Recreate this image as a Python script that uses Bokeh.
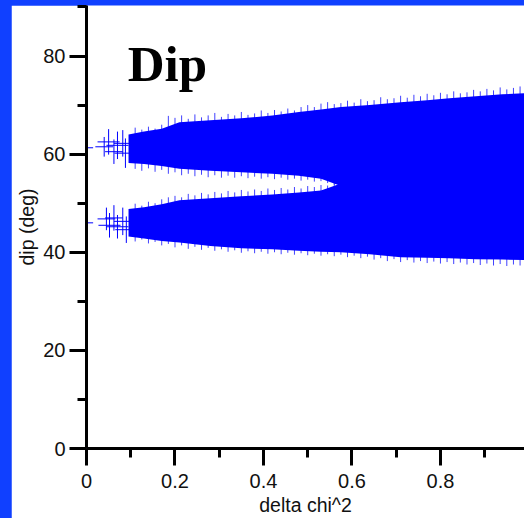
from bokeh.plotting import figure
from bokeh.models import Range1d, FixedTicker, CustomJSTickFormatter, Label, ColumnDataSource
from bokeh.layouts import column
from bokeh.embed import file_html
from bokeh.resources import INLINE

# ---------------- data ----------------
x_ticks = [0, 0.2, 0.4, 0.6, 0.8]
x_minor = [0.1, 0.3, 0.5, 0.7, 0.9]
y_ticks = [0, 20, 40, 60, 80]
y_minor = [10, 30, 50, 70, 90]

# sparse crosses at small delta chi^2 (upper solution)
up_x = [0.0, 0.040, 0.050, 0.062, 0.070, 0.082, 0.088]
up_y = [61.3, 61.5, 62.5, 60.5, 61.8, 62.2, 60.2]
up_ye = [1.0, 2.0, 2.6, 2.5, 2.8, 2.7, 3.0]
up_xe = [0.015, 0.020, 0.025, 0.020, 0.025, 0.020, 0.025]

# sparse crosses at small delta chi^2 (lower solution)
lo_x = [0.0, 0.045, 0.052, 0.062, 0.070, 0.082, 0.090]
lo_y = [46.0, 46.8, 45.5, 47.0, 45.2, 46.3, 44.6]
lo_ye = [1.0, 2.3, 2.5, 2.6, 2.4, 2.8, 2.7]
lo_xe = [0.015, 0.020, 0.025, 0.020, 0.025, 0.020, 0.025]

# dense part: envelope of the overlapping error bars
env_x = [0.095, 0.13, 0.17, 0.21, 0.28, 0.35, 0.42, 0.48, 0.53, 0.575, 0.64, 0.71, 0.77, 0.82, 0.88, 0.94, 0.99]
up_top = [64.0, 64.6, 65.2, 66.5, 66.9, 67.3, 67.9, 68.6, 69.1, 69.6, 70.0, 70.6, 71.0, 71.4, 71.8, 72.2, 72.4]
up_bot = [58.2, 58.0, 57.6, 57.0, 56.6, 56.3, 56.0, 55.6, 55.0, 53.5, 50.0, 50.0, 50.0, 50.0, 50.0, 50.0, 50.0]
lo_top = [48.8, 49.2, 49.8, 50.6, 51.0, 51.4, 51.8, 52.2, 52.6, 54.0, 56.0, 56.0, 56.0, 56.0, 56.0, 56.0, 56.0]
lo_bot = [43.2, 42.8, 42.3, 42.0, 41.3, 40.8, 40.6, 40.3, 40.1, 40.0, 39.6, 39.0, 38.9, 38.8, 38.6, 38.5, 38.4]

# longest error bars sticking out of the dense part
ut_x = [0.11, 0.125, 0.14, 0.155, 0.17, 0.185, 0.20, 0.215, 0.23, 0.245, 0.26, 0.275, 0.29, 0.305, 0.32,
        0.335, 0.35, 0.365, 0.38, 0.395, 0.41, 0.425, 0.44, 0.455, 0.47, 0.485, 0.50, 0.515, 0.53, 0.545,
        0.56, 0.575, 0.59, 0.605, 0.62, 0.635, 0.65, 0.665, 0.68, 0.695, 0.71, 0.725, 0.74, 0.755, 0.77,
        0.785, 0.80, 0.815, 0.83, 0.845, 0.86, 0.875, 0.89, 0.905, 0.92, 0.935, 0.95, 0.965, 0.98]
ut_y = [65.4, 65.0, 65.6, 65.2, 66.0, 67.8, 67.4, 67.9, 67.2, 68.1, 67.5, 67.9, 68.4, 67.6, 68.2,
        67.9, 68.6, 68.0, 68.3, 68.9, 68.4, 69.0, 68.7, 69.3, 68.9, 69.6, 70.0, 69.6, 70.3, 70.6,
        70.2, 70.4, 70.9, 70.5, 71.2, 70.8, 71.0, 71.6, 71.2, 71.4, 71.9, 71.5, 72.1, 71.8, 72.3,
        72.0, 72.5, 72.2, 72.8, 72.4, 72.6, 73.1, 72.8, 73.3, 73.0, 73.6, 73.2, 73.5, 73.8]
ub_x = [0.11, 0.125, 0.14, 0.155, 0.17, 0.185, 0.20, 0.215, 0.23, 0.245, 0.26, 0.275, 0.29, 0.305, 0.32,
        0.335, 0.35, 0.365, 0.38, 0.395, 0.41, 0.425, 0.44, 0.455, 0.47, 0.485, 0.50, 0.515, 0.53, 0.545, 0.56]
ub_y = [57.0, 56.6, 57.1, 56.4, 56.8, 56.0, 56.3, 55.7, 56.0, 55.5, 55.8, 55.3, 55.7, 55.2, 55.6,
        55.2, 55.5, 55.1, 55.4, 55.0, 55.3, 54.9, 55.2, 54.8, 55.0, 54.6, 54.8, 54.4, 54.5, 54.1, 53.8]
lt_x = ub_x
lt_y = [49.9, 49.5, 50.3, 50.0, 50.8, 51.2, 51.5, 51.2, 51.9, 51.6, 52.1, 51.8, 52.3, 52.0, 52.5,
        52.2, 52.7, 52.4, 52.8, 52.5, 53.0, 52.7, 53.1, 52.8, 53.3, 53.0, 53.5, 53.3, 53.7, 53.6, 54.0]
lb_x = ut_x
lb_y = [42.2, 42.6, 41.8, 42.1, 41.4, 41.7, 41.0, 41.4, 40.7, 41.1, 40.5, 40.9, 40.3, 40.6, 40.1,
        40.4, 39.9, 40.2, 39.8, 40.1, 39.7, 40.0, 39.6, 39.9, 39.5, 39.8, 39.4, 39.7, 39.3, 39.6,
        39.2, 39.5, 39.0, 39.3, 38.8, 39.1, 38.5, 38.8, 38.2, 38.6, 38.0, 38.4, 37.9, 38.2, 37.8,
        38.1, 37.7, 38.0, 37.6, 37.9, 37.5, 37.8, 37.4, 37.7, 37.3, 37.6, 37.2, 37.5, 37.3]
up_centre = 61.0
lo_centre = 46.0

# ---------------- figure ----------------
BLUE = "#0000ff"
FRAME_BLUE = "#1040ff"

p = figure(width=513, height=513, output_backend="svg", toolbar_location=None,
           x_range=Range1d(0, 0.99), y_range=Range1d(0, 90.3),
           min_border_left=75, min_border_right=0, min_border_top=0, min_border_bottom=69)
p.outline_line_color = None
p.xgrid.visible = False
p.ygrid.visible = False
p.background_fill_color = "white"
p.border_fill_color = "white"

# dense bands
p.varea(x=env_x, y1=up_bot, y2=up_top, fill_color=BLUE)
p.varea(x=env_x, y1=lo_bot, y2=lo_top, fill_color=BLUE)

# sticking-out error bars
for xs, ys, c in [(ut_x, ut_y, up_centre), (ub_x, ub_y, up_centre), (lt_x, lt_y, lo_centre), (lb_x, lb_y, lo_centre)]:
    p.segment(x0=xs, y0=[c] * len(xs), x1=xs, y1=ys, line_color=BLUE, line_width=1, line_alpha=0.75)

# sparse crosses
for xs, ys, yes, xes in [(up_x, up_y, up_ye, up_xe), (lo_x, lo_y, lo_ye, lo_xe)]:
    src = ColumnDataSource(dict(
        x=xs, y=ys,
        ylo=[y - e for y, e in zip(ys, yes)], yhi=[y + e for y, e in zip(ys, yes)],
        xlo=[x - e for x, e in zip(xs, xes)], xhi=[x + e for x, e in zip(xs, xes)]))
    p.segment(x0="x", y0="ylo", x1="x", y1="yhi", source=src, line_color=BLUE, line_width=1)
    p.segment(x0="xlo", y0="y", x1="xhi", y1="y", source=src, line_color=BLUE, line_width=1)

# axes
p.xaxis.ticker = FixedTicker(ticks=x_ticks, minor_ticks=x_minor)
p.yaxis.ticker = FixedTicker(ticks=y_ticks, minor_ticks=y_minor)
p.xaxis.formatter = CustomJSTickFormatter(code="return tick == 0 ? '0' : tick.toFixed(1);")
p.xaxis.axis_label = "delta chi^2"
p.yaxis.axis_label = "dip (deg)"
for ax in (p.xaxis[0], p.yaxis[0]):
    ax.axis_line_width = 3
    ax.axis_line_color = "black"
    ax.major_tick_line_width = 3
    ax.minor_tick_line_width = 3
    ax.major_tick_line_color = "black"
    ax.minor_tick_line_color = "black"
    ax.major_tick_out = 17
    ax.major_tick_in = 0
    ax.minor_tick_out = 9
    ax.minor_tick_in = 0
    ax.major_label_text_font = "Liberation Sans"
    ax.major_label_text_font_size = "20px"
    ax.major_label_text_color = "#111111"
    ax.axis_label_text_font = "Liberation Sans"
    ax.axis_label_text_font_size = "19.5px"
    ax.axis_label_text_font_style = "normal"
    ax.axis_label_text_color = "#111111"
p.xaxis.major_label_standoff = 8
p.yaxis.major_label_standoff = 4
p.xaxis.axis_label_standoff = 3
p.yaxis.axis_label_standoff = 2

# title inside the plot
p.add_layout(Label(x=0.093, y=78.4, text="Dip", text_font="Liberation Serif",
                   text_font_size="51px", text_font_style="bold", text_color="black",
                   text_baseline="alphabetic"))

layout = column(p, styles={"background-color": FRAME_BLUE, "padding-left": "11px", "padding-top": "5px"})

open("out.html", "w").write(file_html(layout, INLINE))
